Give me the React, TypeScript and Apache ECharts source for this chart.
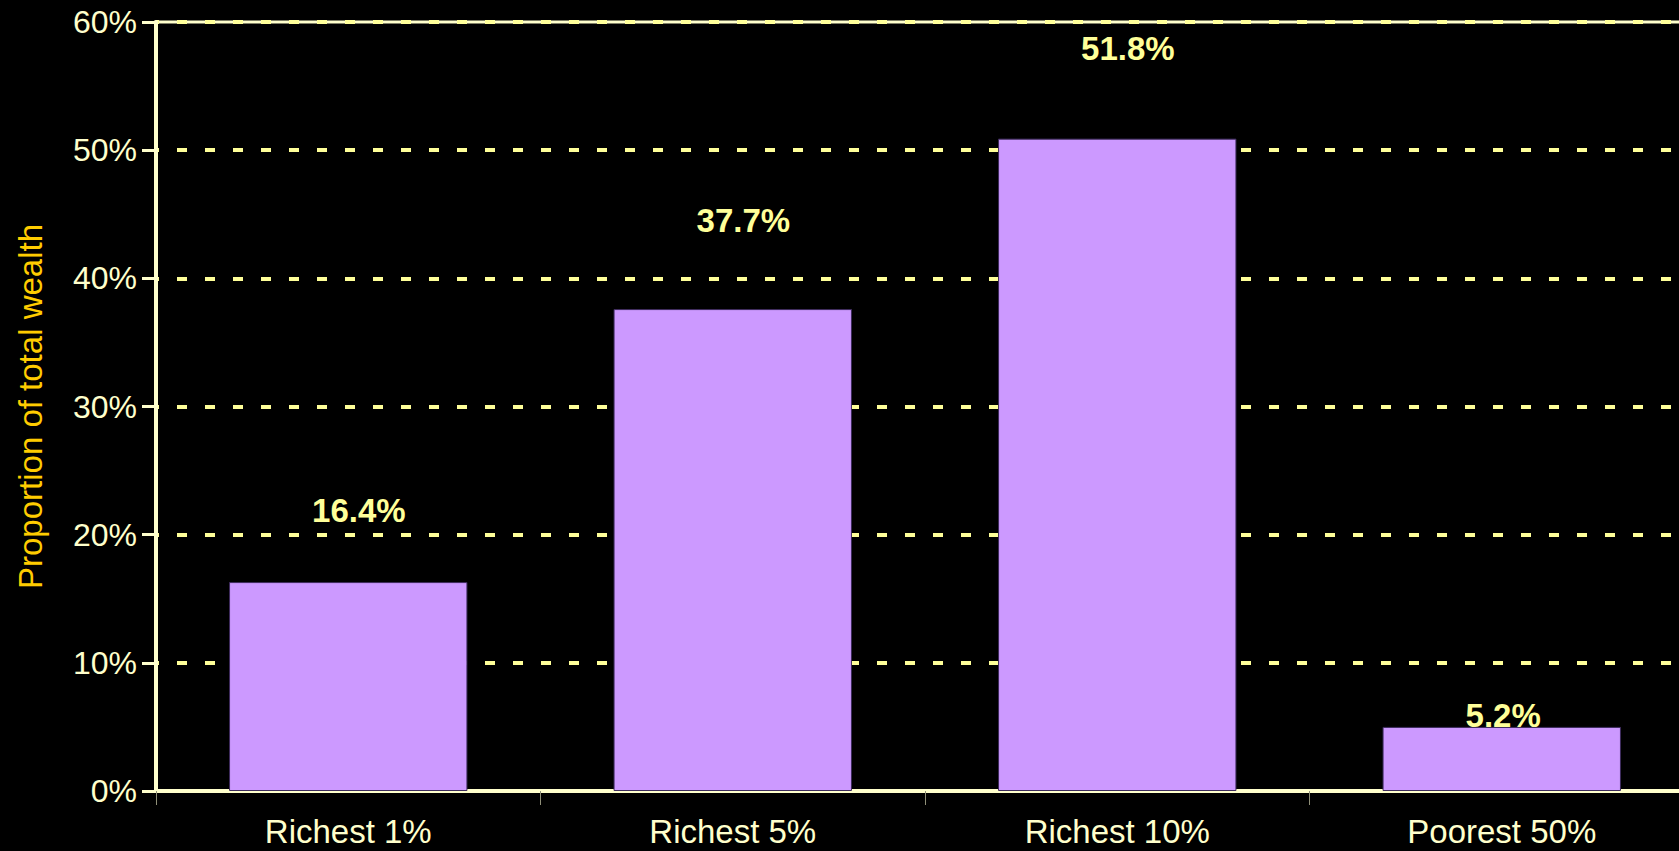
import React, { useEffect, useRef } from "react";
import * as echarts from "echarts";

const categories = ["Richest 1%", "Richest 5%", "Richest 10%", "Poorest 50%"];
// heights of the drawn bars
const barValues = [16.3, 37.6, 50.9, 5.0];
// values printed above the bars
const labelValues = [16.4, 37.7, 51.8, 5.2];
const yTicks = { min: 0, max: 60, interval: 10 };
const yAxisTitle = "Proportion of total wealth";

// label placement relative to each bar's top-left corner (style)
const labelShift: [number, number][] = [
  [83, -72],
  [83, -89],
  [83, -90],
  [83, -11],
];

const FONT = "'Liberation Sans', Arial, sans-serif";
const CREAM = "#FFFFCC";
const DASH = "#FFFF99";

export default function App() {
  const ref = useRef<HTMLDivElement>(null);
  useEffect(() => {
    if (!ref.current) return;
    const chart = echarts.init(ref.current, undefined, { renderer: "svg" });
    chart.setOption({
      animation: false,
      backgroundColor: "#000000",
      textStyle: { fontFamily: FONT },
      grid: {
        left: 156,
        right: -15,
        top: 22,
        bottom: 60,
        containLabel: false,
        outerBoundsMode: "none",
        show: true,
        borderColor: CREAM,
        borderWidth: 3,
        backgroundColor: "transparent",
      },
      xAxis: {
        type: "category",
        data: categories,
        axisLine: { show: true, lineStyle: { color: CREAM, width: 4 } },
        axisTick: {
          show: true,
          alignWithLabel: false,
          length: 14,
          lineStyle: { color: "#8f8f78", width: 1 },
        },
        axisLabel: {
          color: CREAM,
          fontSize: 33,
          fontFamily: FONT,
          margin: 24,
        },
        splitLine: { show: false },
      },
      yAxis: {
        type: "value",
        min: yTicks.min,
        max: yTicks.max,
        interval: yTicks.interval,
        name: yAxisTitle,
        nameLocation: "middle",
        nameGap: 109,
        nameTextStyle: { color: "#FFCC00", fontSize: 33, fontFamily: FONT },
        axisLine: { show: true, lineStyle: { color: CREAM, width: 4 } },
        axisTick: { show: true, length: 14, lineStyle: { color: CREAM, width: 3 } },
        axisLabel: {
          color: CREAM,
          fontSize: 32,
          fontFamily: FONT,
          margin: 19,
          formatter: "{value}%",
        },
        splitLine: {
          show: true,
          lineStyle: { color: DASH, width: 4, type: [10, 18], dashOffset: 7 },
        },
      },
      series: [
        {
          type: "bar",
          barCategoryGap: "38%",
          itemStyle: { color: "#CC99FF", borderColor: "#3d2b5c", borderWidth: 1 },
          data: barValues.map((v, i) => ({
            value: v,
            label: {
              show: true,
              position: labelShift[i],
              align: "left",
              verticalAlign: "middle",
              formatter: labelValues[i].toFixed(1) + "%",
            },
          })),
          label: {
            show: true,
            color: DASH,
            fontSize: 33,
            fontWeight: "bold",
            fontFamily: FONT,
          },
        },
      ],
    });
    return () => chart.dispose();
  }, []);
  return (
    <div
      ref={ref}
      style={{ position: "fixed", left: 0, top: 0, width: 1679, height: 851 }}
    />
  );
}
